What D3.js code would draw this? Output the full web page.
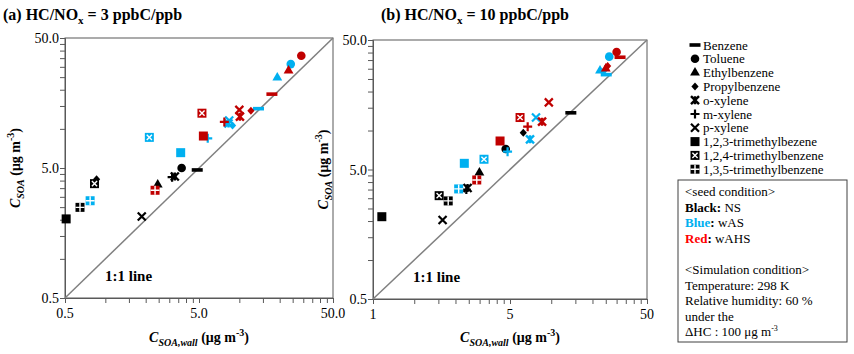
<!DOCTYPE html>
<html>
<head>
<meta charset="utf-8">
<script src="https://cdn.jsdelivr.net/npm/d3@7"></script>
<style>
  body { margin: 0; background: #fff; }
  text { font-family: "Liberation Serif", "Times New Roman", serif; }
</style>
</head>
<body>
<div id="chart"></div>
<script>
var svgWidth = 854;
var svgHeight = 354;

// compounds, in legend order, with their marker shape
var compounds = ["Benzene", "Toluene", "Ethylbenzene", "Propylbenzene", "o-xylene",
  "m-xylene", "p-xylene", "1,2,3-trimethylbezene", "1,2,4-trimethylbenzene", "1,3,5-trimethylbenzene"];
var shapes = ["dash", "circle", "triangle", "diamond", "star", "plus", "cross", "square", "squareX", "squarePlus"];

var seeds = ["NS", "wAS", "wAHS"];
var seedColors = ["#000000", "#00b0f0", "#c00000"];

// panel (a) HC/NOx = 3 : [C_SOA,wall, C_SOA] per compound
var a_NS = [[4.85, 4.83], [3.71, 5.0], [2.46, 3.72], [0.86, 4.1], [3.3, 4.3],
  [3.15, 4.25], [1.87, 2.12], [0.51, 2.03], [0.83, 3.79], [0.647, 2.49]];
var a_wAS = [[13.9, 14.3], [24.2, 31.5], [19.2, 24.8], [8.9, 10.6], [8.3, 11.0],
  [5.81, 8.45], [8.4, 11.6], [3.65, 6.56], [2.13, 8.6], [0.77, 2.8]];
var a_wAHS = [[17.5, 18.5], [29.0, 36.5], [23.3, 28.0], [12.2, 13.8], [10.1, 12.4],
  [7.73, 11.3], [10.0, 14.0], [5.39, 8.81], [5.26, 13.2], [2.35, 3.37]];

// panel (b) HC/NOx = 10
var b_NS = [[13.9, 13.7], [4.65, 7.2], [2.99, 4.72], [6.25, 9.62], [2.45, 3.6],
  [2.4, 3.5], [1.61, 2.04], [0.58, 2.16], [1.52, 3.14], [1.77, 2.86]];
var b_wAS = [[25.2, 27.0], [26.5, 37.2], [22.7, 29.0], [24.0, 28.5], [7.0, 8.55],
  [4.8, 6.86], [7.74, 12.6], [2.32, 5.58], [3.23, 6.0], [2.11, 3.54]];
var b_wAHS = [[31.8, 36.8], [30.0, 40.4], [25.0, 30.0], [25.8, 31.5], [8.57, 11.7],
  [6.73, 10.7], [9.6, 16.5], [4.23, 8.3], [5.92, 12.6], [2.86, 4.15]];

var majorTicks = [0.5, 5, 50];
var yTickLabels = ["0.5", "5.0", "50.0"];
var xTickLabelsA = ["0.5", "5.0", "50.0"];
var xTickLabelsB = ["1", "5", "50"];

var svg = d3.select("#chart").append("svg")
  .attr("width", svgWidth)
  .attr("height", svgHeight);

// minor ticks at 0.5*k*10^n like the spreadsheet log axis
var allTicks = [];
[0.5, 5].forEach(function(base) {
  for (var k = 1; k < 10; k++) allTicks.push(base * k);
});
allTicks.push(50);

function drawMarker(g, shape, color, x, y) {
  var m = g.append("g").attr("transform", `translate(${x},${y})`);
  if (shape === "dash") {
    m.append("rect").attr("x", -5.5).attr("y", -1.8).attr("width", 11).attr("height", 3.6).attr("fill", color);
  } else if (shape === "circle") {
    m.append("circle").attr("r", 4.3).attr("fill", color);
  } else if (shape === "triangle") {
    m.append("path").attr("d", d3.symbol(d3.symbolTriangle, 42)()).attr("fill", color);
  } else if (shape === "diamond") {
    m.append("path").attr("d", "M0,-4L3.6,0L0,4L-3.6,0Z").attr("fill", color);
  } else if (shape === "star") {
    m.append("path").attr("d", "M-4,-4L4,4M4,-4L-4,4M0,-4L0,4")
      .attr("stroke", color).attr("stroke-width", 2.4).attr("fill", "none");
  } else if (shape === "plus") {
    m.append("path").attr("d", "M-4.5,0L4.5,0M0,-4.5L0,4.5")
      .attr("stroke", color).attr("stroke-width", 2.2);
  } else if (shape === "cross") {
    m.append("path").attr("d", "M-4,-4L4,4M4,-4L-4,4")
      .attr("stroke", color).attr("stroke-width", 2.2);
  } else if (shape === "square") {
    m.append("rect").attr("x", -4.5).attr("y", -4.5).attr("width", 9).attr("height", 9).attr("fill", color);
  } else if (shape === "squareX") {
    m.append("rect").attr("x", -4.5).attr("y", -4.5).attr("width", 9).attr("height", 9).attr("fill", color);
    m.append("path").attr("d", "M-2.6,-2.6L2.6,2.6M2.6,-2.6L-2.6,2.6")
      .attr("stroke", "#fff").attr("stroke-width", 1.4);
  } else if (shape === "squarePlus") {
    m.append("rect").attr("x", -4.5).attr("y", -4.5).attr("width", 9).attr("height", 9).attr("fill", color);
    m.append("path").attr("d", "M-4.5,0L4.5,0M0,-4.5L0,4.5")
      .attr("stroke", "#fff").attr("stroke-width", 1.4);
  }
}

function drawPanel(opt) {
  var x = d3.scaleLog().domain([0.5, 50]).range([opt.left, opt.right]);
  var y = d3.scaleLog().domain([0.5, 50]).range([opt.bottom, opt.top]);
  var g = svg.append("g");

  // frame
  g.append("rect")
    .attr("x", opt.left).attr("y", opt.top)
    .attr("width", opt.right - opt.left).attr("height", opt.bottom - opt.top)
    .attr("fill", "none").attr("stroke", "#595959").attr("stroke-width", 1);

  var xAxis = g.append("g")
    .attr("transform", `translate(0,${opt.bottom})`)
    .call(d3.axisBottom(x).tickValues(allTicks).tickSize(5).tickFormat(""));
  var yAxis = g.append("g")
    .attr("transform", `translate(${opt.left},0)`)
    .call(d3.axisLeft(y).tickValues(allTicks).tickSize(5).tickFormat(""));
  [xAxis, yAxis].forEach(function(ax) {
    ax.select(".domain").attr("stroke", "#595959");
    ax.selectAll(".tick line").attr("stroke", "#595959");
  });

  // tick labels
  majorTicks.forEach(function(v, i) {
    g.append("text")
      .attr("x", x(v)).attr("y", opt.bottom + 20)
      .attr("text-anchor", "middle").attr("font-size", 14)
      .text(opt.xLabels[i]);
    g.append("text")
      .attr("x", opt.left - 6).attr("y", y(v) + 5)
      .attr("text-anchor", "end").attr("font-size", 14)
      .text(yTickLabels[i]);
  });

  // 1:1 line
  g.append("line")
    .attr("x1", x(0.5)).attr("y1", y(0.5))
    .attr("x2", x(50)).attr("y2", y(50))
    .attr("stroke", "#808080").attr("stroke-width", 1.5);

  g.append("text")
    .attr("x", x(0.5) + 40).attr("y", opt.bottom - 17)
    .attr("font-size", 15).attr("font-weight", "bold")
    .text("1:1 line");

  // points
  opt.series.forEach(function(data, s) {
    data.forEach(function(d, i) {
      drawMarker(g, shapes[i], seedColors[s], x(d[0]), y(d[1]));
    });
  });

  // panel title
  var t = g.append("text")
    .attr("x", opt.titleX).attr("y", 20)
    .attr("font-size", 16).attr("font-weight", "bold");
  t.append("tspan").text(opt.title[0]);
  t.append("tspan").attr("font-size", 11).attr("dy", 4).text("x");
  t.append("tspan").attr("dy", -4).text(opt.title[1]);

  // x axis title
  var xt = g.append("text")
    .attr("x", (opt.left + opt.right) / 2).attr("y", 342)
    .attr("text-anchor", "middle").attr("font-size", 14).attr("font-weight", "bold");
  xt.append("tspan").attr("font-style", "italic").text("C");
  xt.append("tspan").attr("font-style", "italic").attr("font-size", 10).attr("dy", 4).text("SOA,wall");
  xt.append("tspan").attr("dy", -4).text(" (μg m");
  xt.append("tspan").attr("font-size", 10).attr("dy", -6).text("-3");
  xt.append("tspan").attr("dy", 6).text(")");

  // y axis title
  var yt = g.append("text")
    .attr("transform", `translate(${opt.yTitleX},${(opt.top + opt.bottom) / 2}) rotate(-90)`)
    .attr("text-anchor", "middle").attr("font-size", 14).attr("font-weight", "bold");
  yt.append("tspan").attr("font-style", "italic").text("C");
  yt.append("tspan").attr("font-style", "italic").attr("font-size", 10).attr("dy", 4).text("SOA");
  yt.append("tspan").attr("dy", -4).text(" (μg m");
  yt.append("tspan").attr("font-size", 10).attr("dy", -6).text("-3");
  yt.append("tspan").attr("dy", 6).text(")");
}

drawPanel({
  left: 65, right: 333, top: 38, bottom: 298,
  series: [a_NS, a_wAS, a_wAHS],
  xLabels: xTickLabelsA,
  title: ["(a) HC/NO", " = 3 ppbC/ppb"], titleX: 3,
  yTitleX: 20
});

drawPanel({
  left: 373, right: 647, top: 40, bottom: 299,
  series: [b_NS, b_wAS, b_wAHS],
  xLabels: xTickLabelsB,
  title: ["(b) HC/NO", " = 10 ppbC/ppb"], titleX: 381,
  yTitleX: 328
});

// compound legend
var legend = svg.append("g");
compounds.forEach(function(name, i) {
  var ly = 45 + i * 13.8;
  drawMarker(legend, shapes[i], "#000", 695, ly);
  legend.append("text")
    .attr("x", 703).attr("y", ly + 4.5)
    .attr("font-size", 13)
    .text(name);
});

// condition box
var box = svg.append("g");
box.append("rect")
  .attr("x", 678).attr("y", 180).attr("width", 169).attr("height", 162)
  .attr("fill", "none").attr("stroke", "#404040").attr("stroke-width", 1);

var boxLines = [
  [["<seed condition>", null, false]],
  [["Black:", "#000", true], [" NS", null, false]],
  [["Blue", "#00b0f0", true], [":", "#000", true], [" wAS", null, false]],
  [["Red", "#ff0000", true], [":", "#000", true], [" wAHS", null, false]],
  [],
  [["<Simulation condition>", null, false]],
  [["Temperature: 298 K", null, false]],
  [["Relative humidity: 60 %", null, false]],
  [["under the", null, false]]
];
boxLines.forEach(function(parts, i) {
  if (!parts.length) return;
  var t = box.append("text")
    .attr("x", 685).attr("y", 196 + i * 15.6)
    .attr("font-size", 13);
  parts.forEach(function(p) {
    var sp = t.append("tspan").text(p[0]);
    if (p[1]) sp.attr("fill", p[1]);
    if (p[2]) sp.attr("font-weight", "bold");
  });
});
var lastLine = box.append("text")
  .attr("x", 685).attr("y", 196 + 9 * 15.6)
  .attr("font-size", 13);
lastLine.append("tspan").text("ΔHC : 100 μg m");
lastLine.append("tspan").attr("font-size", 8).attr("dy", -5).text("-3");
</script>
</body>
</html>
